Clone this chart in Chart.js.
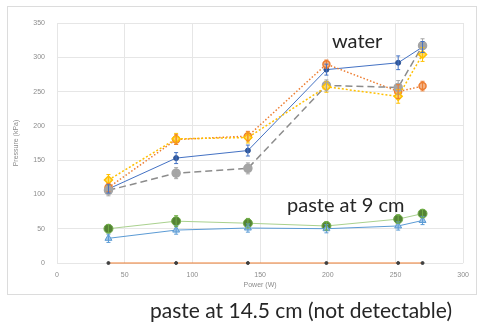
<!DOCTYPE html>
<html>
<head>
<meta charset="utf-8">
<script src="https://cdn.jsdelivr.net/npm/chart.js@4.4.0/dist/chart.umd.min.js"></script>
<style>
  html, body { margin: 0; padding: 0; background: #fff; }
  #wrap { position: relative; width: 477px; height: 325px; }
</style>
</head>
<body>
<div id="wrap"><canvas id="chart" width="477" height="325"></canvas></div>
<script>
// power settings (W) and measured pressures (kPa)
var power = [38, 88, 141, 199, 252, 270];

var waterA = [108, 153, 164, 282, 292, 315];
var waterB = [110, 180, 185, 290, 250, 258];
var waterC = [106, 131, 138, 259, 256, 317];
var waterD = [121, 181, 183, 257, 243, 304];
var paste9A = [50, 61, 58, 54, 64, 72];
var paste9B = [36, 48, 51, 50, 54, 62];
var paste145 = [0, 0, 0, 0, 0, 0];

// standard deviations (kPa)
var errA = [6, 8, 8, 8, 10, 8];
var errB = [6, 7, 7, 6, 10, 7];
var errC = [8, 8, 8, 8, 10, 10];
var errD = [8, 8, 8, 8, 10, 10];
var err9A = [6, 8, 7, 6, 6, 6];
var err9B = [6, 6, 6, 6, 6, 6];

var xTicks = [0, 50, 100, 150, 200, 250, 300];
var yTicks = [0, 50, 100, 150, 200, 250, 300, 350];

function pts(ys, errs) {
    return ys.map(function (y, i) {
        return { x: power[i], y: y, e: errs ? errs[i] : 0 };
    });
}

// vertical error bars drawn through the scales
var errorBars = {
    id: 'errorBars',
    afterDatasetsDraw: function (chart) {
        var ctx = chart.ctx;
        var ys = chart.scales.y;
        chart.data.datasets.forEach(function (ds, di) {
            var meta = chart.getDatasetMeta(di);
            ctx.save();
            ctx.strokeStyle = ds.errColor || ds.borderColor;
            ctx.lineWidth = 1;
            meta.data.forEach(function (el, i) {
                var p = ds.data[i];
                if (!p.e) return;
                var top = ys.getPixelForValue(p.y + p.e);
                var bot = ys.getPixelForValue(p.y - p.e);
                ctx.beginPath();
                ctx.moveTo(el.x, top); ctx.lineTo(el.x, bot);
                ctx.moveTo(el.x - 2, top); ctx.lineTo(el.x + 2, top);
                ctx.moveTo(el.x - 2, bot); ctx.lineTo(el.x + 2, bot);
                ctx.stroke();
            });
            ctx.restore();
        });
    }
};

// frame and annotations
var decor = {
    id: 'decor',
    beforeDraw: function (chart) {
        var ctx = chart.ctx;
        ctx.save();
        ctx.fillStyle = '#fff';
        ctx.fillRect(0, 0, chart.width, chart.height);
        ctx.strokeStyle = '#dcdcdc';
        ctx.lineWidth = 1;
        ctx.strokeRect(7.5, 6.5, 469, 288);
        ctx.restore();
    },
    afterDraw: function (chart) {
        var ctx = chart.ctx;
        ctx.save();
        ctx.fillStyle = '#262626';
        ctx.font = '20px Lato, "Open Sans", sans-serif';
        ctx.textBaseline = 'alphabetic';
        ctx.fillText('water', 332, 48);
        ctx.fillText('paste at 9 cm', 287, 212);
        ctx.font = '21px Lato, "Open Sans", sans-serif';
        ctx.fillText('paste at 14.5 cm (not detectable)', 150, 318);
        ctx.restore();
    }
};

var ctx = document.getElementById('chart');

var myChart = new Chart(ctx, {
    type: 'line',
    data: {
        datasets: [
            {
                label: 'paste 14.5 cm',
                data: pts(paste145),
                borderColor: '#ED7D31',
                borderWidth: 1,
                pointBackgroundColor: '#404040',
                pointBorderColor: '#404040',
                pointRadius: 1.5,
                clip: false
            },
            {
                label: 'paste 9 cm B',
                data: pts(paste9B, err9B),
                borderColor: '#5B9BD5',
                borderWidth: 1,
                pointStyle: 'triangle',
                pointBackgroundColor: '#9DC3E6',
                pointBorderColor: '#5B9BD5',
                pointRadius: 4
            },
            {
                label: 'paste 9 cm A',
                data: pts(paste9A, err9A),
                borderColor: '#A9D18E',
                errColor: '#70AD47',
                borderWidth: 1,
                pointBackgroundColor: '#548235',
                pointBorderColor: '#70AD47',
                pointRadius: 4.5
            },
            {
                label: 'water D',
                data: pts(waterD, errD),
                borderColor: '#FFC000',
                borderWidth: 1.5,
                borderDash: [2, 2],
                pointStyle: 'rectRot',
                pointBackgroundColor: '#FFD966',
                pointBorderColor: '#FFC000',
                pointRadius: 4
            },
            {
                label: 'water C',
                data: pts(waterC, errC),
                borderColor: '#8C8C8C',
                errColor: '#A5A5A5',
                borderWidth: 1.5,
                borderDash: [7, 4],
                pointBackgroundColor: '#A5A5A5',
                pointBorderColor: '#A5A5A5',
                pointRadius: 4
            },
            {
                label: 'water B',
                data: pts(waterB, errB),
                borderColor: '#ED7D31',
                borderWidth: 1.5,
                borderDash: [1.5, 2],
                pointBackgroundColor: '#F4B183',
                pointBorderColor: '#ED7D31',
                pointRadius: 3.5
            },
            {
                label: 'water A',
                data: pts(waterA, errA),
                borderColor: '#4472C4',
                borderWidth: 1,
                pointBackgroundColor: '#2F5597',
                pointBorderColor: '#2F5597',
                pointRadius: 2.5
            }
        ]
    },
    options: {
        responsive: false,
        animation: false,
        layout: { padding: { left: 8, right: 10, top: 23, bottom: 32 } },
        plugins: {
            legend: { display: false },
            tooltip: { enabled: false }
        },
        scales: {
            x: {
                type: 'linear',
                min: 0,
                max: 300,
                afterBuildTicks: function (s) { s.ticks = xTicks.map(function (v) { return { value: v }; }); },
                afterFit: function (s) { s.height = 30; },
                grid: { color: '#e6e6e6', drawTicks: false },
                border: { display: false },
                ticks: { color: '#8c8c8c', font: { size: 7 }, padding: 8 },
                title: { display: true, text: 'Power (W)', color: '#8c8c8c', font: { size: 7 }, padding: { top: 5 } }
            },
            y: {
                min: 0,
                max: 350,
                afterBuildTicks: function (s) { s.ticks = yTicks.map(function (v) { return { value: v }; }); },
                afterFit: function (s) { s.width = 49; },
                grid: { color: '#e6e6e6', drawTicks: false },
                border: { display: false },
                ticks: { color: '#8c8c8c', font: { size: 7 }, padding: 12 },
                title: { display: true, text: 'Pressure (kPa)', color: '#8c8c8c', font: { size: 7 } }
            }
        }
    },
    plugins: [errorBars, decor]
});
</script>
</body>
</html>
